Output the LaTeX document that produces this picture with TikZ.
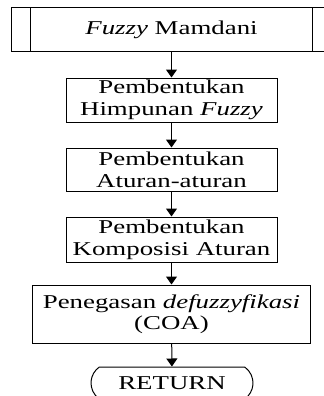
\documentclass[tikz,border=0pt]{standalone}
\usepackage{fontspec}
\setmainfont[FakeStretch=1.37]{Liberation Serif}
\usetikzlibrary{arrows.meta,shapes.misc}
\tikzset{
  px/.style={x=0.5pt,y=-0.5pt},
  stepbox/.style={draw,line width=0.5pt,inner sep=0pt,align=center,
    font=\fontsize{9.8}{10.8}\selectfont},
  txt/.style={inner sep=0pt,align=center,font=\fontsize{9.8}{10.8}\selectfont},
  arr/.style={line width=0.5pt,-{Triangle[length=4pt,width=5.5pt]}},
  frame/.style={line width=0.5pt}
}
\begin{document}
\begin{tikzpicture}[px]
\useasboundingbox (0,0) rectangle (324,396);
\clip (0,0) rectangle (324,396);
\fill[white] (0,0) rectangle (324,396);
% predefined process box
\node[draw,frame,inner sep=0pt,minimum width=164.5pt,minimum height=22pt] (frame) at (175.5,29.5) {};
\draw[frame] (30,7.5) -- (30,51.5);
\draw[frame] (312.5,7.5) -- (312.5,51.5);
\node[txt] (mam) at (171.5,30) {\textit{Fuzzy} Mamdani};
\node[stepbox,minimum width=105.5pt,minimum height=22pt] (b2) at (171.5,100) {Pembentukan\\Himpunan \textit{Fuzzy}};
\node[stepbox,minimum width=105.5pt,minimum height=21.5pt] (b3) at (171.5,169.5) {Pembentukan\\Aturan-aturan};
\node[stepbox,minimum width=105.5pt,minimum height=22.5pt] (b4) at (171.5,239.5) {Pembentukan\\Komposisi Aturan};
\node[stepbox,minimum width=139pt,minimum height=29pt] (b5) at (171.5,314) {Penegasan \textit{defuzzyfikasi}\\(COA)};
\node[stepbox,rounded rectangle,rounded rectangle arc length=110,minimum width=81pt,minimum height=16pt] (ret) at (172,383) {RETURN};
\draw[arr] (mam.center |- frame.south) -- (b2.north);
\draw[arr] (b2) -- (b3);
\draw[arr] (b3) -- (b4);
\draw[arr] (b4) -- (b5);
\draw[arr] (b5) -- (ret);
\end{tikzpicture}
\end{document}
